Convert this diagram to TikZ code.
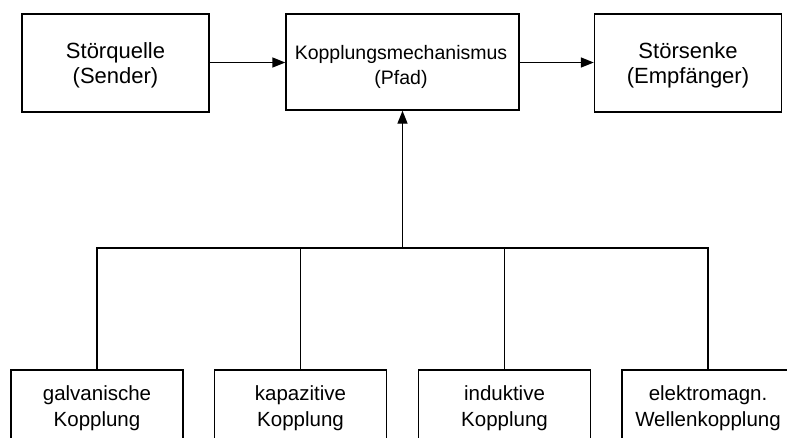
\documentclass[tikz,border=0pt]{standalone}
\usepackage{fontspec}
\setmainfont{Liberation Sans}
\usetikzlibrary{arrows.meta}
\begin{document}
\begin{tikzpicture}[x=1pt,y=-1pt,
  box/.style={draw, line width=1.4pt, inner sep=0pt},
  topbox/.style={box, minimum width=187pt, minimum height=98pt},
  midbox/.style={box, minimum width=233pt, minimum height=96pt},
  botbox/.style={box, minimum width=172pt, minimum height=110pt},
  bigtxt/.style={align=center, font=\fontsize{22}{25.5}\selectfont, inner sep=0pt},
  midtxt/.style={align=center, font=\fontsize{19.5}{25}\selectfont, inner sep=0pt},
  bottxt/.style={align=center, font=\fontsize{20.5}{26}\selectfont, inner sep=0pt},
  arr/.style={-{Triangle[length=13pt,width=10pt]}, line width=1.4pt},
  wire/.style={line width=1.4pt}
]
\clip (0,0) rectangle (787,437);
\fill[white] (0,0) rectangle (787,437);
% top row
\node[topbox] (src) at (115.5,63) {};
\node[midbox] (path) at (402.5,62) {};
\node[topbox] (snk) at (688,63) {};
\node[bigtxt] (srct) at (115.5,65.5) {Störquelle\\(Sender)};
\node[midtxt] (patht) at (401,67) {Kopplungsmechanismus\\(Pfad)};
\node[bigtxt] (snkt) at (688,65.5) {Störsenke\\(Empfänger)};
\coordinate (ay) at (0,62.5);
\draw[arr] (src.east |- ay) -- (path.west |- ay);
\draw[arr] (path.east |- ay) -- (snk.west |- ay);
% bottom row
\node[botbox] (ga) at (97,425) {};
\node[botbox] (ka) at (300.5,425) {};
\node[botbox] (in) at (504.5,425) {};
\node[botbox] (el) at (708,425) {};
\node[bottxt] (gat) at (97,408) {galvanische\\Kopplung};
\node[bottxt] (kat) at (300.5,408) {kapazitive\\Kopplung};
\node[bottxt] (int) at (504.5,408) {induktive\\Kopplung};
\node[bottxt] (elt) at (708,408) {elektromagn.\\Wellenkopplung};
% bus
\coordinate (bus) at (402.5,248);
\draw[wire] (ga.north) -- (ga.north |- bus) -- (el.north |- bus) -- (el.north);
\draw[wire] (ka.north) -- (ka.north |- bus);
\draw[wire] (in.north) -- (in.north |- bus);
\draw[arr] (bus) -- (path.south);
\end{tikzpicture}
\end{document}
